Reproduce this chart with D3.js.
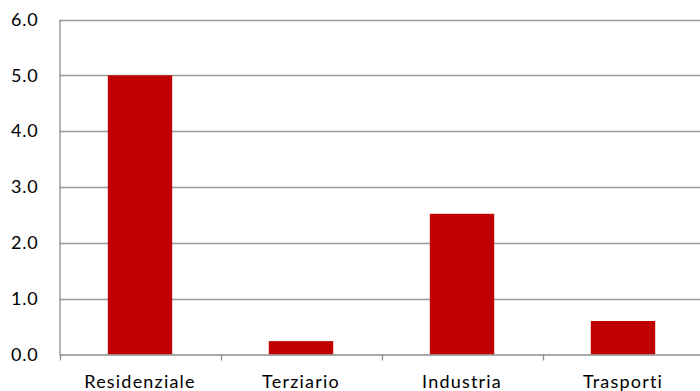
<!DOCTYPE html>
<html><head><meta charset="utf-8">
<script src="https://cdn.jsdelivr.net/npm/d3@7"></script>
<style>body{margin:0;background:#fff}svg{display:block}text{font-family:Lato,"Open Sans",sans-serif;fill:#000}</style>
</head><body>
<svg id="c" width="700" height="391"></svg>
<script>
const categories = ["Residenziale","Terziario","Industria","Trasporti"];
const values = [5.0, 0.24, 2.52, 0.60];
const yTicks = [0,1,2,3,4,5,6];

const svg = d3.select("#c");
const m = {left:59.5, right:703.5, top:19.5, bottom:354.5};
const x = d3.scaleBand().domain(categories).range([m.left, m.right]).paddingInner(0.6).paddingOuter(0.3);
const xo = d3.scaleBand().domain(categories).range([m.left, m.right]);
const y = d3.scaleLinear().domain([0,6]).range([m.bottom, m.top]);

// gridlines
svg.append("g").selectAll("line").data(yTicks.filter(d=>d>0)).join("line")
  .attr("x1", m.left).attr("x2", 700)
  .attr("y1", d=>Math.round(y(d))+0.5).attr("y2", d=>Math.round(y(d))+0.5)
  .attr("stroke", "#9a9a9a").attr("stroke-width", 1.5);

// bars
svg.append("g").selectAll("rect").data(categories).join("rect")
  .attr("x", d=>x(d)).attr("width", x.bandwidth())
  .attr("y", (d,i)=>y(values[i])).attr("height", (d,i)=>y(0)-y(values[i]))
  .attr("fill", "#C00000");

// y axis
const ya = d3.axisLeft(y).tickValues(yTicks).tickFormat(d3.format(".1f")).tickSize(0).tickPadding(21);
const gy = svg.append("g").attr("transform", `translate(${m.left},0)`).call(ya);
gy.select(".domain").attr("stroke", "#8c8c8c").attr("stroke-width", 1.3);
gy.selectAll("text").attr("font-size", 18).attr("font-family", "Lato, 'Open Sans', sans-serif").attr("letter-spacing", 0.8);

// x axis
const xa = d3.axisBottom(xo).tickSize(0).tickPadding(21);
const gx = svg.append("g").attr("transform", `translate(0,${m.bottom})`).call(xa);
gx.select(".domain").attr("stroke", "#8c8c8c").attr("stroke-width", 1.3);
gx.selectAll("text").attr("font-size", 18).attr("font-family", "Lato, 'Open Sans', sans-serif").attr("letter-spacing", 1.2);
// category boundary ticks
const bounds = categories.map(c=>xo(c));
svg.append("g").selectAll("line").data(bounds).join("line")
  .attr("x1", d=>Math.round(d)+0.5).attr("x2", d=>Math.round(d)+0.5)
  .attr("y1", m.bottom).attr("y2", m.bottom+6)
  .attr("stroke", "#8c8c8c").attr("stroke-width", 1.3);
</script>
</body></html>
